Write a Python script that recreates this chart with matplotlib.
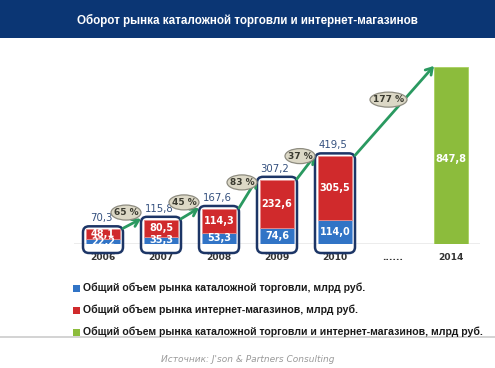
import matplotlib
matplotlib.use("Agg")
import matplotlib.pyplot as plt
import matplotlib.transforms as mtransforms
from matplotlib.patches import FancyBboxPatch, Rectangle, Ellipse

years = ["2006", "2007", "2008", "2009", "2010", "......", "2014"]
catalog = [22.2, 35.3, 53.3, 74.6, 114.0]
internet = [48.1, 80.5, 114.3, 232.6, 305.5]
totals = [70.3, 115.8, 167.6, 307.2, 419.5]
forecast_year_idx = 6
forecast_total = 847.8
growth = ["65 %", "45 %", "83 %", "37 %", "177 %"]

title = "Оборот рынка каталожной торговли и интернет-магазинов"
legend_labels = [
    "Общий объем рынка каталожной торговли, млрд руб.",
    "Общий объем рынка интернет-магазинов, млрд руб.",
    "Общий объем рынка каталожной торговли и интернет-магазинов, млрд руб.",
]
source = "Источник: J'son & Partners Consulting"

def fmt(v):
    return f"{v:.1f}".replace(".", ",")

BLUE = "#3174c6"
RED = "#d02a2c"
GREEN = "#8cbc3c"
NAVY = "#1c3566"
ARROW = "#2a9960"
LIB = ["Liberation Sans", "DejaVu Sans"]

W, H = 495, 368
fig = plt.figure(figsize=(W / 100, H / 100), dpi=100)
fig.patch.set_facecolor("white")

# Title banner
fig.patches.append(Rectangle((0, 1 - 38 / H), 1, 38 / H, transform=fig.transFigure,
                             facecolor="#0b3674", edgecolor="none", zorder=0))
fig.text(0.5, 1 - 20 / H, title, color="white", fontsize=8.4, fontweight="bold",
         ha="center", va="center", family=LIB)

# Axes: baseline at y px 244, x centers at 103 + 58*i
ymax = 900.0
ppx = 188.0  # axes height px
ax = fig.add_axes([74 / W, (H - 244) / H, 406 / W, ppx / H])
ax.set_xlim(-0.5, 6.5)
ax.set_ylim(0, ymax)
ax.axis("off")
ax.axhline(0, color="#a0a0a0", lw=1.0, xmin=0, xmax=1, zorder=1)

uy = ymax / ppx       # data units per px (y)
ux = 1 / 58.0         # data units per px (x)
bw = 34 * ux
n = len(catalog)
xs = list(range(n))

ax.bar(xs, catalog, width=bw, color=BLUE, edgecolor="#8fb3e6", lw=0.6, zorder=3)
ax.bar(xs, internet, width=bw, bottom=catalog, color=RED, edgecolor="#e98a8a", lw=0.6, zorder=3)
ax.bar([forecast_year_idx], [forecast_total], width=bw, color=GREEN, edgecolor="#a9d160", lw=0.6, zorder=3)

# rounded frames around bars
bx = 20 * ux
for i, t in enumerate(totals):
    bottom = -9 * uy
    top = t + 3 * uy
    p = FancyBboxPatch((i - bx, bottom), 2 * bx, top - bottom,
                       boxstyle=f"round,pad=0,rounding_size={6 * ux}",
                       mutation_aspect=uy / ux, facecolor="none",
                       edgecolor=NAVY, lw=1.8, zorder=4, clip_on=False)
    ax.add_patch(p)

# inside labels
for i in range(n):
    ax.text(i, catalog[i] / 2, fmt(catalog[i]), ha="center", va="center",
            color="white", fontsize=7, fontweight="bold", zorder=5)
    ax.text(i, catalog[i] + internet[i] / 2, fmt(internet[i]), ha="center", va="center",
            color="white", fontsize=7, fontweight="bold", zorder=5)
    ax.text(i - 2 * ux, totals[i] + 11 * uy, fmt(totals[i]), ha="center", va="center",
            color="#34507e", fontsize=7.3, zorder=5)
ax.text(forecast_year_idx, forecast_total / 2 - 4 * uy, fmt(forecast_total), ha="center", va="center",
        color="white", fontsize=7, fontweight="bold", zorder=5)

# year labels
for i, y in enumerate(years):
    ax.text(i, -14 * uy, y, ha="center", va="center", color="#333333",
            fontsize=6.6, fontweight="bold", clip_on=False)

# arrows + growth ellipses
tops = totals + [forecast_total]
xi = xs + [forecast_year_idx]
for k in range(len(growth)):
    x0, y0 = xi[k] + bx, tops[k] + 1 * uy
    x1, y1 = xi[k + 1] - (bx if k + 1 < n else bw / 2), tops[k + 1] + 1 * uy
    ax.annotate("", xy=(x1, y1), xytext=(x0, y0),
                arrowprops=dict(arrowstyle="->,head_length=0.45,head_width=0.28",
                                color=ARROW, lw=2.0, shrinkA=0, shrinkB=0),
                zorder=6, annotation_clip=False)
    mx, my = (x0 + x1) / 2, (y0 + y1) / 2
    trans = mtransforms.Affine2D() + mtransforms.ScaledTranslation(mx, my, ax.transData)
    ew = 30 if len(growth[k]) <= 4 else 37
    e = Ellipse((-6, 11), width=ew, height=15, transform=trans, facecolor="#dcd8c6",
                edgecolor="#8e8c80", lw=0.9, zorder=7, clip_on=False)
    ax.add_patch(e)
    ax.text(-6, 11, growth[k], transform=trans, ha="center", va="center",
            fontsize=6.5, fontweight="bold", color="#3a3a30", zorder=8, clip_on=False)

# legend
colors = [BLUE, RED, GREEN]
ys = [288, 310, 332]
for c, yv, lab in zip(colors, ys, legend_labels):
    fig.patches.append(Rectangle((73 / W, 1 - (yv + 3.5) / H), 7 / W, 7 / H,
                                 transform=fig.transFigure, facecolor=c,
                                 edgecolor="none"))
    fig.text(83 / W, 1 - yv / H, lab, fontsize=7.55, fontweight="bold",
             color="#1a1a1a", ha="left", va="center", family=LIB)

# separator and source
fig.patches.append(Rectangle((0, 1 - 338 / H), 1, 2 / H, transform=fig.transFigure,
                             facecolor="#d4d4d4", edgecolor="none"))
fig.text(248 / W, 1 - 360 / H, source, fontsize=6.5, style="italic",
         color="#9a9a9a", ha="center", va="center")

fig.savefig("out.png", dpi=100)
